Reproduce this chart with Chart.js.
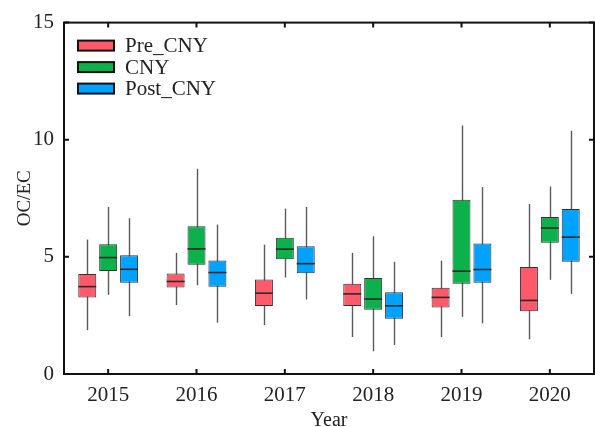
<!DOCTYPE html>
<html>
<head>
<meta charset="utf-8">
<script src="https://cdn.jsdelivr.net/npm/chart.js@4.4.1/dist/chart.umd.min.js"></script>
<style>
  html, body { margin: 0; padding: 0; background: #ffffff; }
  .chart-container { width: 595px; height: 427px; position: relative; }
</style>
</head>
<body>
<div class="chart-container"><canvas id="boxChart"></canvas></div>
<script>
const years = ['2015', '2016', '2017', '2018', '2019', '2020'];
const seriesNames = ['Pre_CNY', 'CNY', 'Post_CNY'];
const seriesColors = ['#FF5A6B', '#0CB14B', '#00A2FF'];

// per series: one entry per year, [lower whisker, Q1, median, Q3, upper whisker]
const preCny = [
  [1.87, 3.27, 3.73, 4.27, 5.74],
  [2.94, 3.69, 3.95, 4.29, 5.17],
  [2.09, 2.90, 3.45, 4.03, 5.52],
  [1.58, 2.90, 3.42, 3.85, 5.17],
  [1.58, 2.84, 3.27, 3.68, 4.84],
  [1.48, 2.68, 3.14, 4.57, 7.26]
];
const cny = [
  [3.38, 4.40, 4.97, 5.54, 7.13],
  [3.79, 4.66, 5.34, 6.31, 8.76],
  [4.12, 4.90, 5.33, 5.82, 7.06],
  [0.97, 2.74, 3.20, 4.10, 5.88],
  [2.44, 3.85, 4.39, 7.44, 10.61],
  [4.02, 5.60, 6.23, 6.70, 8.00]
];
const postCny = [
  [2.47, 3.89, 4.47, 5.07, 6.65],
  [2.19, 3.72, 4.33, 4.84, 6.38],
  [3.18, 4.30, 4.71, 5.45, 7.13],
  [1.24, 2.36, 2.91, 3.49, 4.79],
  [2.16, 3.89, 4.46, 5.57, 7.98],
  [3.42, 4.79, 5.84, 7.04, 10.38]
];
const yTicks = [0, 5, 10, 15];

const allSeries = [preCny, cny, postCny];
const serif = "'Liberation Serif', 'Times New Roman', serif";

Chart.defaults.color = '#222222';
Chart.defaults.font.family = serif;
Chart.defaults.font.size = 20;

// whiskers under the boxes, medians on top, then frame, inward ticks and legend
const boxPlotPlugin = {
  id: 'boxPlot',
  beforeDatasetsDraw(chart) {
    const { ctx } = chart;
    const yScale = chart.scales.y;
    ctx.save();
    ctx.strokeStyle = '#5a5a5a';
    ctx.lineWidth = 1.4;
    chart.data.datasets.forEach((ds, di) => {
      chart.getDatasetMeta(di).data.forEach((bar, i) => {
        const s = ds.stats[i];
        const x = Math.round(bar.x) + 0.5;
        ctx.beginPath();
        ctx.moveTo(x, yScale.getPixelForValue(s[0]));
        ctx.lineTo(x, yScale.getPixelForValue(s[4]));
        ctx.stroke();
      });
    });
    ctx.restore();
  },
  afterDatasetsDraw(chart) {
    const { ctx } = chart;
    const yScale = chart.scales.y;
    ctx.save();
    ctx.strokeStyle = '#2a2a2a';
    ctx.lineWidth = 1.6;
    chart.data.datasets.forEach((ds, di) => {
      chart.getDatasetMeta(di).data.forEach((bar, i) => {
        const y = yScale.getPixelForValue(ds.stats[i][2]);
        ctx.beginPath();
        ctx.moveTo(bar.x - bar.width / 2, y);
        ctx.lineTo(bar.x + bar.width / 2, y);
        ctx.stroke();
      });
    });
    ctx.restore();
  },
  afterDraw(chart) {
    const { ctx, chartArea: a } = chart;
    ctx.save();
    ctx.strokeStyle = '#111111';
    ctx.lineWidth = 2;
    ctx.strokeRect(a.left, a.top, a.right - a.left, a.bottom - a.top);
    const xs = chart.scales.x;
    const ys = chart.scales.y;
    ctx.beginPath();
    xs.ticks.forEach((t, i) => {
      const x = xs.getPixelForTick(i);
      ctx.moveTo(x, a.bottom); ctx.lineTo(x, a.bottom - 5);
      ctx.moveTo(x, a.top); ctx.lineTo(x, a.top + 5);
    });
    ys.ticks.forEach((t, i) => {
      const y = ys.getPixelForTick(i);
      ctx.moveTo(a.left, y); ctx.lineTo(a.left + 5, y);
      ctx.moveTo(a.right, y); ctx.lineTo(a.right - 5, y);
    });
    ctx.stroke();

    // legend inside the plot, top left
    ctx.font = '21px ' + serif;
    ctx.textBaseline = 'middle';
    ctx.textAlign = 'left';
    chart.data.datasets.forEach((ds, i) => {
      const cy = a.top + 23 + i * 21.5;
      const bx = a.left + 14;
      ctx.fillStyle = ds.backgroundColor;
      ctx.fillRect(bx, cy - 5, 36, 10);
      ctx.lineWidth = 2;
      ctx.strokeStyle = '#111111';
      ctx.strokeRect(bx, cy - 5, 36, 10);
      ctx.fillStyle = '#222222';
      ctx.fillText(ds.label, bx + 47, cy + 1);
    });
    ctx.restore();
  }
};

const datasets = allSeries.map((series, si) => ({
  label: seriesNames[si],
  data: series.map(s => [s[1], s[3]]),
  stats: series,
  backgroundColor: seriesColors[si],
  borderColor: '#333333',
  borderWidth: 1,
  borderSkipped: false,
  barPercentage: 0.86,
  categoryPercentage: 0.71
}));

new Chart(document.getElementById('boxChart'), {
  type: 'bar',
  data: { labels: years, datasets: datasets },
  plugins: [boxPlotPlugin],
  options: {
    responsive: true,
    maintainAspectRatio: false,
    animation: false,
    layout: { padding: { left: 0, right: 1, top: 22, bottom: 0 } },
    plugins: {
      tooltip: { enabled: false },
      legend: { display: false }
    },
    scales: {
      x: {
        grid: { display: false, drawTicks: false },
        border: { display: false },
        ticks: { padding: 9, font: { size: 21 } },
        title: { display: true, text: 'Year', font: { size: 20, lineHeight: 1 }, padding: { top: 0, bottom: -4 } },
        afterFit: scale => { scale.height = 53; }
      },
      y: {
        min: 0,
        max: 15,
        afterBuildTicks: scale => { scale.ticks = yTicks.map(v => ({ value: v })); },
        grid: { display: false, drawTicks: false },
        border: { display: false },
        ticks: { padding: 10, font: { size: 21 } },
        title: { display: true, text: 'OC/EC', font: { size: 19, lineHeight: 1 }, padding: { top: 16, bottom: 0 } },
        afterFit: scale => { scale.width = 64; }
      }
    }
  }
});
</script>
</body>
</html>
